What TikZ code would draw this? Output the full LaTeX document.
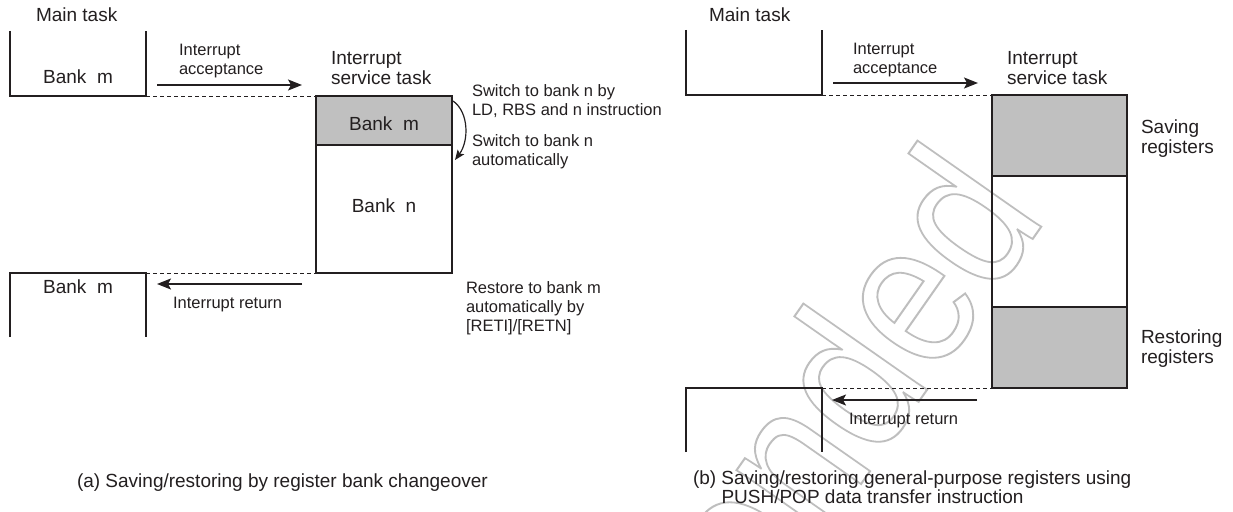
\documentclass[tikz,border=0pt]{standalone}
\usepackage{fontspec}
\usepackage{graphicx}
\setmainfont{Liberation Sans}
\newfontfamily\wmfont{Liberation Sans}
\usetikzlibrary{arrows.meta}
\definecolor{ink}{RGB}{35,31,32}
\definecolor{bankgray}{RGB}{192,192,192}
\definecolor{wmgray}{RGB}{190,190,190}
\newcommand\ml[1]{\vtop{\halign{##\hfil\cr#1\crcr}}}
\newcommand\outl[1]{\special{pdf:literal direct 1 Tr 2 w}#1\special{pdf:literal direct 0 Tr}}
\tikzset{
  smalltxt/.style={font=\fontsize{16.5}{19}\selectfont},
  bigtxt/.style={font=\fontsize{19}{20.5}\selectfont},
  lbl/.style={inner sep=0pt, outer sep=0pt, anchor=base west, text=ink},
  clbl/.style={inner sep=0pt, outer sep=0pt, anchor=base, text=ink},
  openbox/.style={draw=ink, line width=1.5pt},
  bankbox/.style={draw=ink, line width=1.5pt, inner sep=0pt, outer sep=0pt},
  conn/.style={draw=ink, line width=1pt, dash pattern=on 4pt off 3pt},
  flow/.style={draw=ink, line width=1.3pt, -{Stealth[length=14pt,width=11pt,inset=3pt]}},
  bendarrow/.style={draw=ink, line width=1.2pt, -{Stealth[length=10pt,width=8pt,inset=2pt]}},
}
\begin{document}
\begin{tikzpicture}[x=1pt,y=-1pt]
\useasboundingbox (0,0) rectangle (1233,511);
\fill[white] (0,0) rectangle (1233,511);
% watermark
\node[rotate=55, anchor=base east, inner sep=0pt, outer sep=0pt, text=wmgray] (wm) at (1048,217)
  {\wmfont\fontsize{208}{208}\selectfont\scalebox{0.86}[1]{\outl{Recommended}}};

% ---------------- panel (a) ----------------
\coordinate (mA-tl) at (10,31);
\coordinate (mA-br) at (146,96);
\coordinate (mA-tr) at (146,31);
\draw[openbox] (mA-tl) |- (mA-br) -- (mA-tr);
\node[lbl,bigtxt] (mtA) at (36,22) {Main task};
\node[clbl,bigtxt] (bkA1) at (78,83) {Bank\ \ m};

\node[bankbox, fill=bankgray, minimum width=136pt, minimum height=49pt] (isrAt) at (384,120.5) {};
\node[bankbox, minimum width=136pt, minimum height=128pt] (isrAb) at (384,209) {};
\node[clbl,bigtxt] (bkA2) at (384,130) {Bank\ \ m};
\node[clbl,bigtxt] (bkA3) at (384,212) {Bank\ \ n};

\draw[conn] (mA-br) -- (isrAt.north west);

\coordinate (rA-bl) at (10,337);
\coordinate (rA-tr) at (146,273);
\coordinate (rA-br) at (146,337);
\draw[openbox] (rA-bl) |- (rA-tr) -- (rA-br);
\node[clbl,bigtxt] (bkA4) at (78,293) {Bank\ \ m};
\draw[conn] (rA-tr) -- (isrAb.south west);

\coordinate (acA-s) at (157,85);
\coordinate (acA-e) at (302,85);
\draw[flow] (acA-s) -- (acA-e);
\coordinate (reA-s) at (302,284);
\coordinate (reA-e) at (157,284);
\draw[flow] (reA-s) -- (reA-e);

\coordinate (cvs) at (453,101);
\coordinate (cve) at (455,160);
\draw[bendarrow] (cvs) .. controls (469,112) and (469,141) .. (cve);

\node[lbl,smalltxt] (accA) at (179,56) {\ml{Interrupt\cr acceptance}};
\node[lbl,bigtxt] (isrlA) at (331,64) {\ml{Interrupt\cr service task}};
\node[lbl,smalltxt] (sw1) at (472,96) {\ml{Switch to bank n by\cr LD, RBS and n instruction}};
\node[lbl,smalltxt] (sw2) at (472,146) {\ml{Switch to bank n\cr automatically}};
\node[lbl,smalltxt] (rest) at (466,293) {\ml{Restore to bank m\cr automatically by\cr [RETI]/[RETN]}};
\node[lbl,smalltxt] (irA) at (173,308) {Interrupt return};
\node[lbl,bigtxt] (capA) at (77,487) {(a) Saving/restoring by register bank changeover};

% ---------------- panel (b) ----------------
\coordinate (mB-tl) at (686,30);
\coordinate (mB-br) at (822,95);
\coordinate (mB-tr) at (822,30);
\draw[openbox] (mB-tl) |- (mB-br) -- (mB-tr);
\node[lbl,bigtxt] (mtB) at (709,22) {Main task};

\node[bankbox, fill=bankgray, minimum width=135pt, minimum height=81pt] (isrBt) at (1059.5,135.5) {};
\node[bankbox, minimum width=135pt, minimum height=131pt] (isrBm) at (1059.5,241.5) {};
\node[bankbox, fill=bankgray, minimum width=135pt, minimum height=81pt] (isrBb) at (1059.5,347.5) {};

\draw[conn] (mB-br) -- (isrBt.north west);

\coordinate (rB-bl) at (686,452);
\coordinate (rB-tr) at (822,388);
\coordinate (rB-br) at (822,452);
\draw[openbox] (rB-bl) |- (rB-tr) -- (rB-br);
\draw[conn] (rB-tr) -- (isrBb.south west);

\coordinate (acB-s) at (833,83);
\coordinate (acB-e) at (978,83);
\draw[flow] (acB-s) -- (acB-e);
\coordinate (reB-s) at (977,400);
\coordinate (reB-e) at (832,400);
\draw[flow] (reB-s) -- (reB-e);

\node[lbl,smalltxt] (accB) at (853,55) {\ml{Interrupt\cr acceptance}};
\node[lbl,bigtxt] (isrlB) at (1007,64) {\ml{Interrupt\cr service task}};
\node[lbl,bigtxt] (sav) at (1141,133) {\ml{Saving\cr registers}};
\node[lbl,bigtxt] (rsto) at (1141,343) {\ml{Restoring\cr registers}};
\node[lbl,smalltxt] (irB) at (849,424) {Interrupt return};
\node[lbl,font=\fontsize{19}{19.5}\selectfont] (capB) at (693,484)
  {\ml{(b) Saving/restoring general-purpose registers using\cr\phantom{(b)\ }PUSH/POP data transfer instruction}};
\end{tikzpicture}
\end{document}
